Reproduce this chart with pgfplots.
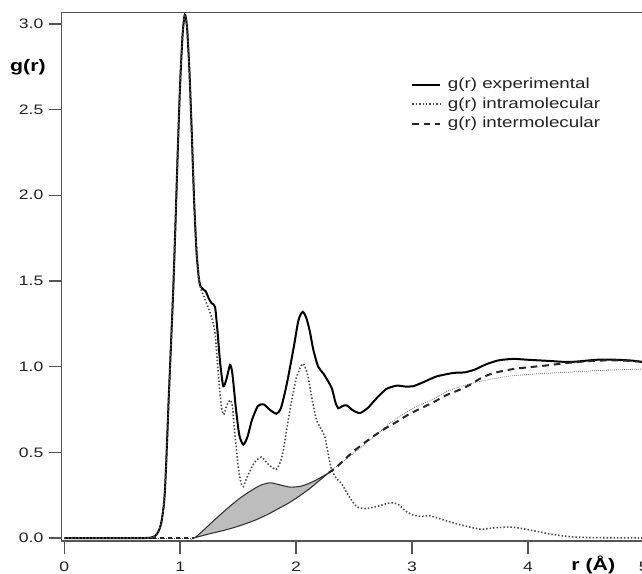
\documentclass[border=0pt]{standalone}
\usepackage{fontspec}
\setmainfont[FakeStretch=1.28]{Liberation Sans}
\usepackage{pgfplots}
\pgfplotsset{compat=1.18}
\definecolor{axisgray}{HTML}{555555}
\definecolor{textgray}{HTML}{222222}
\definecolor{fillgray}{HTML}{BDBDBD}
\begin{document}
\begin{tikzpicture}
\useasboundingbox (-46.3pt,-24.75pt) rectangle (435.2pt,405.75pt);
\begin{axis}[
  at={(0pt,0pt)}, anchor=south west,
  scale only axis, width=436.6pt, height=396.2pt,
  xmin=-0.022, xmax=5, ymin=-0.0175, ymax=3.065,
  axis line style={axisgray, line width=1.1pt},
  xtick={0,1,2,3,4,5}, ytick={0,0.5,1,1.5,2,2.5,3},
  xticklabels={0,1,2,3,4,5},
  yticklabels={0.0,0.5,1.0,1.5,2.0,2.5,3.0},
  tick align=outside, xtick pos=bottom, ytick pos=left,
  major tick length=9.5pt,
  tick style={axisgray, line width=1.1pt},
  xticklabel style={font=\fontsize{10.3}{12}\selectfont, text=textgray, yshift=-2.8pt},
  yticklabel style={font=\fontsize{10.3}{12}\selectfont, text=textgray, xshift=-0.8pt},
  ylabel={\textbf{g(r)}},
  ylabel style={rotate=-90, at={(axis description cs:-0.058,0.897)}, anchor=center, font=\fontsize{12.5}{14}\selectfont, text=black},
  xlabel={\textbf{r (Å)}},
  xlabel style={at={(axis description cs:0.913,-0.045)}, anchor=center, font=\fontsize{12.5}{14}\selectfont, text=black},
  legend style={at={(axis cs:2.99,2.70)}, anchor=north west, draw=none, fill=none, font=\fontsize{11}{12.5}\selectfont, text=textgray, row sep=1.2pt, inner sep=0pt, nodes={inner xsep=5pt}},
  legend cell align=left,
  legend image code/.code={\draw[#1] (0cm,0cm) -- (0.74cm,0cm);},
]
% shaded region
\addplot[fill=fillgray, draw=black!80, line width=0.8pt, smooth, tension=0.4, forget plot] coordinates {
(1.12,0) (1.142,0.01) (1.20,0.045) (1.315,0.117) (1.42,0.18) (1.516,0.233) (1.62,0.28) (1.70,0.31) (1.78,0.322) (1.86,0.31) (1.947,0.297) (2.034,0.301) (2.09,0.313) (2.15,0.33) (2.206,0.35) (2.278,0.379)
(2.20,0.335) (2.12,0.29) (2.05,0.255) (1.95,0.21) (1.85,0.172) (1.75,0.136) (1.65,0.105) (1.55,0.08) (1.45,0.058) (1.35,0.04) (1.25,0.024) (1.15,0.006) (1.12,0)
} -- cycle;
% fine dotted continuation
\addplot[black!55, line width=0.6pt, dash pattern=on 0.6pt off 0.9pt, forget plot] coordinates {
(0,0) (1.12,0)
};
\addplot[black!55, line width=0.6pt, dash pattern=on 0.6pt off 0.9pt, smooth, tension=0.4, forget plot] coordinates {
(2.278,0.379) (2.35,0.418) (2.45,0.47) (2.551,0.525) (2.65,0.58) (2.724,0.622) (2.83,0.68) (2.954,0.735) (3.05,0.77) (3.184,0.81) (3.30,0.855) (3.45,0.89) (3.587,0.914) (3.75,0.935) (3.874,0.947) (4.10,0.959) (4.305,0.966) (4.60,0.977) (4.80,0.982) (5.0,0.986)
};
% experimental
\addplot[black, line width=1.5pt, smooth, tension=0.4] coordinates {
(0,0) (0.70,0) (0.75,0.003) (0.78,0.01) (0.80,0.025) (0.82,0.05) (0.84,0.10) (0.86,0.20) (0.87,0.30) (0.88,0.45) (0.89,0.62) (0.90,0.80) (0.92,1.12) (0.94,1.45) (0.96,1.85) (0.98,2.28) (1.00,2.66) (1.02,2.93) (1.035,3.04) (1.045,3.05) (1.06,2.97) (1.08,2.72) (1.10,2.36) (1.12,1.97) (1.14,1.68) (1.16,1.52) (1.175,1.47) (1.20,1.45) (1.22,1.44) (1.245,1.40) (1.27,1.37) (1.30,1.35) (1.32,1.22) (1.345,1.02) (1.372,0.885) (1.40,0.93) (1.43,1.01) (1.45,0.96) (1.48,0.76) (1.51,0.60) (1.545,0.545) (1.58,0.59) (1.62,0.69) (1.67,0.77) (1.72,0.78) (1.77,0.75) (1.83,0.725) (1.87,0.76) (1.92,0.90) (1.976,1.10) (2.02,1.27) (2.057,1.32) (2.09,1.28) (2.12,1.20) (2.148,1.10) (2.19,1.00) (2.235,0.96) (2.28,0.91) (2.31,0.87) (2.34,0.79) (2.364,0.757) (2.40,0.77) (2.436,0.774) (2.49,0.745) (2.551,0.729) (2.62,0.76) (2.70,0.82) (2.78,0.87) (2.868,0.889) (2.94,0.884) (3.011,0.886) (3.10,0.91) (3.213,0.943) (3.356,0.963) (3.46,0.967) (3.55,0.985) (3.644,1.015) (3.75,1.037) (3.874,1.045) (4.00,1.04) (4.162,1.034) (4.363,1.027) (4.593,1.04) (4.766,1.04) (4.90,1.035) (5.00,1.025)
};
\addlegendentry{g(r) experimental}
% intramolecular
\addplot[black!70, line width=1.2pt, dash pattern=on 1.1pt off 1.5pt, smooth, tension=0.4] coordinates {
(0,0) (0.70,0) (0.75,0.003) (0.78,0.01) (0.80,0.025) (0.82,0.05) (0.84,0.10) (0.86,0.20) (0.87,0.30) (0.88,0.45) (0.89,0.62) (0.90,0.80) (0.92,1.12) (0.94,1.45) (0.96,1.85) (0.98,2.28) (1.00,2.66) (1.02,2.93) (1.035,3.04) (1.045,3.05) (1.06,2.97) (1.08,2.72) (1.10,2.36) (1.12,1.97) (1.14,1.68) (1.16,1.52) (1.175,1.46) (1.21,1.40) (1.243,1.342) (1.27,1.29) (1.30,1.20) (1.33,0.95) (1.355,0.77) (1.375,0.72) (1.40,0.77) (1.43,0.805) (1.45,0.77) (1.47,0.62) (1.50,0.42) (1.525,0.32) (1.545,0.30) (1.58,0.36) (1.64,0.44) (1.70,0.472) (1.76,0.43) (1.83,0.40) (1.88,0.48) (1.94,0.72) (2.00,0.93) (2.057,1.017) (2.10,0.95) (2.14,0.80) (2.176,0.69) (2.22,0.63) (2.248,0.59) (2.28,0.48) (2.305,0.40) (2.35,0.345) (2.39,0.32) (2.45,0.25) (2.52,0.184) (2.60,0.172) (2.70,0.185) (2.81,0.205) (2.88,0.196) (2.94,0.16) (3.00,0.136) (3.08,0.126) (3.155,0.13) (3.25,0.11) (3.40,0.08) (3.587,0.052) (3.72,0.06) (3.846,0.064) (3.95,0.055) (4.076,0.039) (4.20,0.022) (4.39,0.006) (4.60,0.002) (5.00,0)
};
\addlegendentry{g(r) intramolecular}
% intermolecular
\addplot[black!85, line width=1.5pt, dash pattern=on 5pt off 3.7pt, smooth, tension=0.4] coordinates {
(2.278,0.379) (2.35,0.415) (2.494,0.505) (2.638,0.58) (2.752,0.632) (2.868,0.678) (2.968,0.72) (3.07,0.755) (3.184,0.792) (3.30,0.835) (3.40,0.862) (3.50,0.894) (3.587,0.93) (3.70,0.962) (3.874,0.986) (4.0,0.996) (4.162,1.007) (4.334,1.021) (4.45,1.028) (4.6,1.035) (4.8,1.036) (5.0,1.028)
};
\addlegendentry{g(r) intermolecular}
\addplot[black!85, line width=1.0pt, dash pattern=on 3pt off 3pt, forget plot] coordinates {(0.76,0) (1.12,0)};
\end{axis}
\end{tikzpicture}
\end{document}
